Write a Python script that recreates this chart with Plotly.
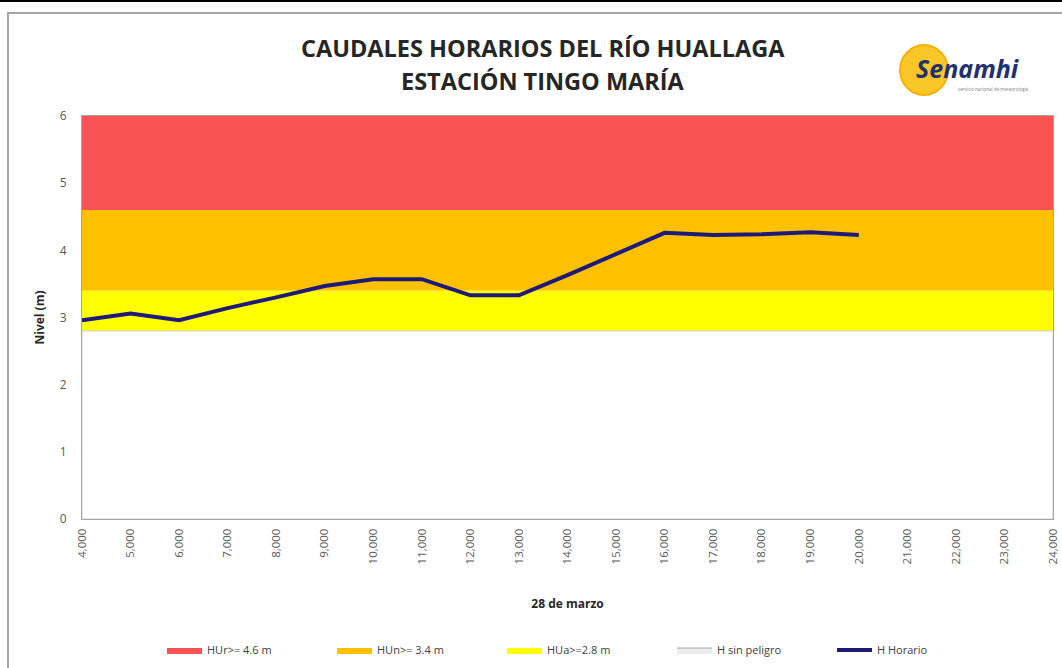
import plotly.graph_objects as go

# ---- data ----
hours = [4, 5, 6, 7, 8, 9, 10, 11, 12, 13, 14, 15, 16, 17, 18, 19, 20]
nivel = [2.96, 3.06, 2.96, 3.14, 3.30, 3.47, 3.57, 3.57, 3.33, 3.33, 3.63, 3.95, 4.26, 4.23, 4.24, 4.27, 4.23]

tick_vals = list(range(4, 25))
tick_text = [f"{h},000" for h in tick_vals]

band_names = ["HUr>= 4.6 m", "HUn>= 3.4 m", "HUa>=2.8 m", "H sin peligro"]
band_low = [4.6, 3.4, 2.8, 0.0]
band_high = [6.0, 4.6, 3.4, 2.8]
band_colors = ["#F85252", "#FFC000", "#FFFF00", "#FFFFFF"]

x_min, x_max = 4, 24
y_min, y_max = 0, 6

W, H = 1062, 668
ML, MR, MT, MB = 82, 9, 116, 149
PW, PH = W - ML - MR, H - MT - MB

def px(xp):
    return (xp - ML) / PW

def py(yp):
    return (H - MB - yp) / PH

fig = go.Figure()

for name, lo, hi, col in zip(band_names, band_low, band_high, band_colors):
    is_white = col == "#FFFFFF"
    fig.add_trace(go.Scatter(
        x=[x_min, x_max, x_max, x_min, x_min],
        y=[lo, lo, hi, hi, lo],
        fill="toself", fillcolor=col, mode="lines",
        line=dict(color="#D0D0D0" if is_white else col, width=1 if is_white else 0),
        name=name, hoverinfo="skip", showlegend=not is_white,
    ))
    if is_white:
        # legend entry: pale box with grey outline
        fig.add_trace(go.Scatter(
            x=[None], y=[None], fill="toself", fillcolor="#EDEDED", mode="lines",
            line=dict(color="#A6A6A6", width=1), name=name,
        ))

fig.add_trace(go.Scatter(
    x=hours, y=nivel, mode="lines", name="H Horario",
    line=dict(color="#1E1A7A", width=4), legend="legend2",
))

font_fam = "Open Sans, Liberation Sans, sans-serif"
leg_common = dict(orientation="h", xanchor="left", y=py(650), yanchor="middle",
                  font=dict(size=11, color="#404040"), itemwidth=35,
                  traceorder="normal", bgcolor="rgba(0,0,0,0)")

fig.update_layout(
    width=W, height=H,
    margin=dict(l=ML, r=MR, t=MT, b=MB, autoexpand=False),
    paper_bgcolor="white", plot_bgcolor="white",
    font=dict(family=font_fam, color="#595959", size=12),
    showlegend=True,
    legend=dict(x=px(162), entrywidth=120, **leg_common),
    legend2=dict(x=px(832), **leg_common),
    xaxis=dict(range=[x_min, x_max], tickvals=tick_vals, ticktext=tick_text,
               tickangle=-90, showgrid=False, zeroline=False,
               showline=True, linecolor="#A6A6A6", linewidth=1, mirror=True,
               ticks="", ticklen=0, ticklabelstandoff=4, tickfont=dict(size=11.5),
               ticklabeloverflow="allow",
               title=dict(text="<b>28 de marzo</b>", font=dict(size=12, color="#262626"), standoff=36)),
    yaxis=dict(range=[y_min, y_max], dtick=1, showgrid=False, zeroline=False,
               showline=True, linecolor="#A6A6A6", linewidth=1, mirror=True,
               ticks="", ticklabelstandoff=12,
               title=dict(text="<b>Nivel (m)</b>", font=dict(size=12, color="#262626"), standoff=12)),
)

def note(x, y, text, size, color, **kw):
    fig.add_annotation(x=px(x), y=py(y), xref="paper", yref="paper", text=text,
                       showarrow=False, xanchor=kw.get("xanchor", "center"), yanchor="middle",
                       font=dict(size=size, color=color, family=font_fam))

# title
note(543, 48, "<b>CAUDALES HORARIOS DEL RÍO HUALLAGA</b>", 23.5, "#262626")
note(543, 81, "<b>ESTACIÓN TINGO MARÍA</b>", 23.5, "#262626")

# logo approximation
fig.add_shape(type="circle", xref="paper", yref="paper",
              x0=px(900), x1=px(948), y0=py(95), y1=py(45),
              fillcolor="#F9C728", line=dict(color="#F5B000", width=2), layer="above")
note(914, 68, "<b><i>Senamhi</i></b>", 25, "#23306E", xanchor="left")
note(956, 89, "servicio nacional de meteorología", 4.5, "#808080", xanchor="left")

# outer frame
fig.add_shape(type="line", xref="paper", yref="paper",
              x0=px(0), x1=px(W), y0=py(1), y1=py(1), line=dict(color="#000000", width=2))
fig.add_shape(type="rect", xref="paper", yref="paper",
              x0=px(8), x1=px(W + 20), y0=py(13), y1=py(H + 20),
              line=dict(color="#A6A6A6", width=2), fillcolor="rgba(0,0,0,0)")

fig.write_html("out.html", post_script="document.body.style.margin='0';",
               config={"displayModeBar": False})
